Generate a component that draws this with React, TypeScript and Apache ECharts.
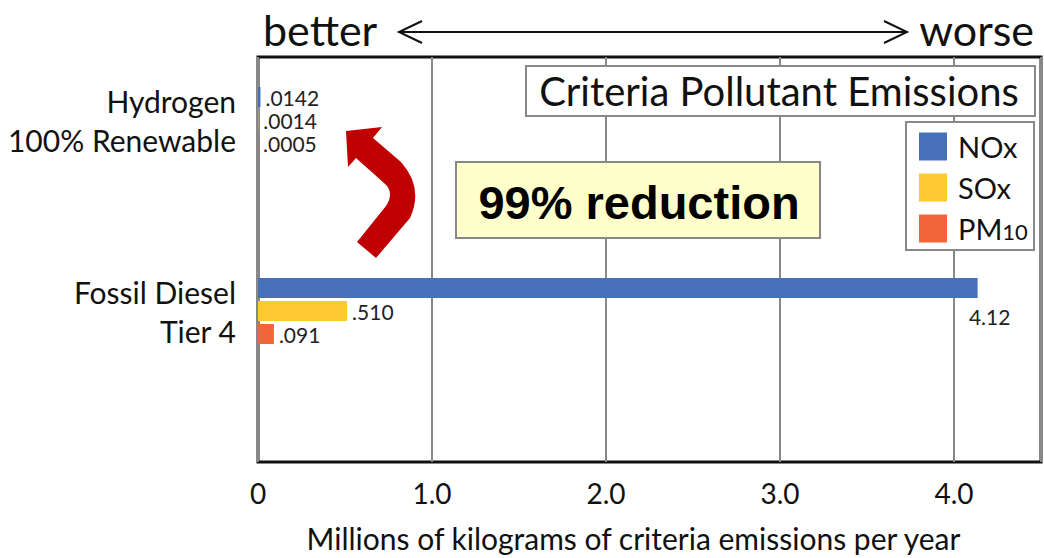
import React, { useEffect, useRef } from "react";
import * as echarts from "echarts";

const categories = ["Hydrogen\n100% Renewable", "Fossil Diesel\nTier 4"];
const seriesNames = ["NOx", "SOx", "PM10"];
const noxValues = [0.0142, 4.12];
const soxValues = [0.0014, 0.51];
const pm10Values = [0.0005, 0.091];
const noxLabels = [".0142", "4.12"];
const soxLabels = [".0014", ".510"];
const pm10Labels = [".0005", ".091"];
const xTickLabels = ["0", "1.0", "2.0", "3.0", "4.0"];
const colors = ["#4670BA", "#FFC933", "#F0663A"];

const ARROW_D =
  "M 346 131 L 382 127 L 373 138 L 401 162 Q 424 188 410 218 L 376 258 L 357 242 L 386 206 Q 395 192 384 183 L 356 158 L 348 167 Z";
echarts.graphic.registerShape("curvedArrow", echarts.graphic.extendPath(ARROW_D, {}));

const FONT = "Lato";

function buildData(values: number[], labels: string[], belowEnd: boolean) {
  return values.map((v, i) => {
    const item: any = { value: v, label: { formatter: labels[i] } };
    if (belowEnd && v > 1) {
      item.label = {
        formatter: labels[i],
        position: ["100%", 38],
        align: "center",
        verticalAlign: "middle",
        offset: [12, 0],
      };
    }
    return item;
  });
}

export default function App() {
  const ref = useRef<HTMLDivElement>(null);
  useEffect(() => {
    if (!ref.current) return;
    const chart = echarts.init(ref.current, null, { renderer: "svg" });
    const valuesList = [noxValues, soxValues, pm10Values];
    const labelsList = [noxLabels, soxLabels, pm10Labels];
    const series = seriesNames.map((name, k) => ({
      name,
      type: "bar",
      xAxisIndex: 1,
      yAxisIndex: 1,
      barWidth: 20,
      barGap: "15%",
      itemStyle: { color: colors[k] },
      label: {
        show: true,
        position: "right",
        distance: 5,
        fontSize: 21,
        fontFamily: FONT,
        color: "#222",
      },
      data: buildData(valuesList[k], labelsList[k], k === 0),
    }));
    const option: any = {
      animation: false,
      backgroundColor: "#fff",
      textStyle: { fontFamily: FONT },
      legend: {
        data: seriesNames,
        orient: "vertical",
        left: 919,
        top: 132,
        padding: 0,
        itemWidth: 28,
        itemHeight: 28,
        itemGap: 12,
        icon: "rect",
        z: 30,
        selectedMode: false,
        formatter: (n: string) => (n === "PM10" ? "PM{sub|10}" : n),
        textStyle: {
          fontSize: 29,
          fontFamily: FONT,
          color: "#111",
          padding: [0, 0, 0, 6],
          rich: {
            sub: { fontSize: 22, fontFamily: FONT, color: "#111", padding: [6, 0, 0, 0] },
          },
        },
      },
      grid: [
        {
          left: 258,
          top: 57,
          width: 787.5,
          bottom: 96,
          show: true,
          borderColor: "#111",
          borderWidth: 3,
          backgroundColor: "transparent",
        },
        { left: 258, top: 24.5, width: 787.5, height: 382 },
      ],
      xAxis: [
        {
          gridIndex: 0,
          type: "value",
          min: 0,
          max: 4.5,
          interval: 1,
          axisLine: { show: false },
          axisTick: { show: false },
          splitLine: { show: true, lineStyle: { color: "#888", width: 2 } },
          axisLabel: {
            fontSize: 28,
            fontFamily: FONT,
            color: "#111",
            margin: 17,
            formatter: (v: number) =>
              Number.isInteger(v) && v < xTickLabels.length ? xTickLabels[v] : "",
          },
          name: "Millions of kilograms of criteria emissions per year",
          nameLocation: "middle",
          nameGap: 61,
          nameTextStyle: {
            fontSize: 30,
            fontFamily: FONT,
            color: "#111",
            padding: [0, 32, 0, 0],
          },
        },
        { gridIndex: 1, type: "value", min: 0, max: 4.5, show: false },
      ],
      yAxis: [
        { gridIndex: 0, type: "value", show: false },
        {
          gridIndex: 1,
          type: "category",
          inverse: true,
          data: categories,
          axisLine: { show: false },
          axisTick: { show: false },
          splitLine: { show: false },
          axisLabel: {
            fontSize: 30,
            fontFamily: FONT,
            color: "#111",
            lineHeight: 39,
            margin: 22,
            padding: [10, 0, 0, 0],
          },
        },
      ],
      series,
      graphic: [
        {
          type: "text",
          x: 263,
          y: 29,
          z: 20,
          style: { text: "better", fontSize: 43, fontFamily: FONT, fill: "#111", verticalAlign: "middle" },
        },
        {
          type: "text",
          x: 1034,
          y: 29,
          z: 20,
          style: {
            text: "worse",
            fontSize: 43,
            fontFamily: FONT,
            fill: "#111",
            align: "right",
            verticalAlign: "middle",
          },
        },
        {
          type: "line",
          z: 20,
          shape: { x1: 400, y1: 32, x2: 906, y2: 32 },
          style: { stroke: "#111", lineWidth: 2 },
        },
        {
          type: "polyline",
          z: 20,
          shape: { points: [[422, 21], [399, 32], [422, 43]] },
          style: { stroke: "#111", lineWidth: 2, fill: null },
        },
        {
          type: "polyline",
          z: 20,
          shape: { points: [[884, 21], [907, 32], [884, 43]] },
          style: { stroke: "#111", lineWidth: 2, fill: null },
        },
        {
          type: "rect",
          z: 20,
          shape: { x: 526, y: 66, width: 509, height: 50 },
          style: { fill: "#fff", stroke: "#888", lineWidth: 2 },
        },
        {
          type: "text",
          z: 21,
          x: 779,
          y: 91,
          style: {
            text: "Criteria Pollutant Emissions",
            fontSize: 40,
            fontFamily: FONT,
            fill: "#111",
            align: "center",
            verticalAlign: "middle",
          },
        },
        {
          type: "rect",
          z: 20,
          shape: { x: 906, y: 122, width: 128, height: 128 },
          style: { fill: "#fff", stroke: "#888", lineWidth: 2 },
        },
        {
          type: "rect",
          z: 20,
          shape: { x: 456, y: 162, width: 364, height: 76 },
          style: { fill: "#FFFFCC", stroke: "#888", lineWidth: 2 },
        },
        {
          type: "text",
          z: 21,
          x: 639,
          y: 202,
          style: {
            text: "99% reduction",
            fontSize: 47,
            fontWeight: "bold",
            fontFamily: "Liberation Sans",
            fill: "#000",
            align: "center",
            verticalAlign: "middle",
          },
        },
        {
          type: "curvedArrow",
          z: 20,
          x: 0,
          y: 0,
          style: { fill: "#C00000", stroke: null },
        },
      ],
    };
    chart.setOption(option);
    return () => chart.dispose();
  }, []);
  return (
    <div
      ref={ref}
      style={{ position: "fixed", left: 0, top: 0, width: 1044, height: 558, background: "#fff" }}
    />
  );
}
